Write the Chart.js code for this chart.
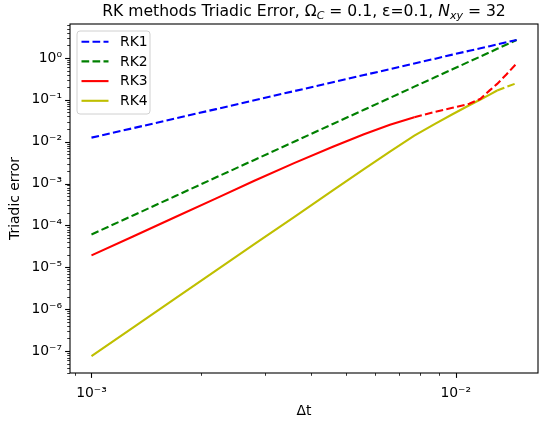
<!DOCTYPE html>
<html>
<head>
<meta charset="utf-8">
<script src="https://cdn.jsdelivr.net/npm/chart.js@4.4.1/dist/chart.umd.min.js"></script>
<style>
  html, body { margin: 0; padding: 0; background: #fff; }
</style>
</head>
<body>
<canvas id="c" width="539" height="426"></canvas>
<script>
// time steps (x) and errors
const dt = [0.001, 0.0013, 0.0017, 0.0022, 0.0028, 0.0036, 0.0046, 0.0056, 0.0066,
            0.0077, 0.0088, 0.0098, 0.0109, 0.0117, 0.0124, 0.0130, 0.0138, 0.0147];

const rk1 = [0.0125, 0.021, 0.036, 0.060, 0.098, 0.161, 0.263, 0.39, 0.54,
             0.74, 0.96, 1.20, 1.48, 1.70, 1.91, 2.10, 2.37, 2.69];
const rk2 = [6.1e-5, 1.73e-4, 5.04e-4, 1.41e-3, 3.67e-3, 9.98e-3, 0.0265, 0.0578, 0.111,
             0.206, 0.349, 0.536, 0.818, 1.08, 1.36, 1.65, 2.09, 2.69];
const rk3 = [1.93e-5, 5.47e-5, 1.59e-4, 4.44e-4, 1.17e-3, 3.08e-3, 7.60e-3, 0.0151, 0.0254,
             0.0383, 0.0518, 0.0645, 0.0803, 0.1056, 0.168, 0.240, 0.407, 0.740];
const rk4 = [7.60e-8, 3.65e-7, 1.81e-6, 8.44e-6, 3.57e-5, 1.59e-4, 6.89e-4, 2.20e-3, 5.78e-3,
             0.0139, 0.0271, 0.0452, 0.0740, 0.1016, 0.133, 0.1665, 0.204, 0.250];

// index from which the RK3 / RK4 curves are drawn dashed
const rk3DashFrom = 9;
const rk4DashFrom = 15;

const seriesLabels = ['RK1', 'RK2', 'RK3', 'RK4'];
const xTickLabels = ['10⁻³', '10⁻²'];
const yTickLabels = ['10⁻⁷', '10⁻⁶', '10⁻⁵', '10⁻⁴', '10⁻³', '10⁻²', '10⁻¹', '10⁰'];

const FONT = 'DejaVu Sans';
const DASH = [7.7, 3.3];
const LW = 2.1;

const pts = ys => dt.map((x, i) => ({ x: x, y: ys[i] }));
const isDecade = v => Math.abs(Math.log10(v) - Math.round(Math.log10(v))) < 1e-9;

function logTicks(scale) {
  const ticks = [];
  const e0 = Math.floor(Math.log10(scale.min)), e1 = Math.ceil(Math.log10(scale.max));
  for (let e = e0; e <= e1; e++) {
    for (let m = 1; m <= 9; m++) {
      const v = m * Math.pow(10, e);
      if (v >= scale.min && v <= scale.max) ticks.push({ value: v });
    }
  }
  scale.ticks = ticks;
}

function sup(n) {
  const map = { '-': '⁻', '0': '⁰', '1': '¹', '2': '²', '3': '³', '4': '⁴', '5': '⁵', '6': '⁶', '7': '⁷', '8': '⁸', '9': '⁹' };
  return String(n).split('').map(c => map[c]).join('');
}
function decadeLabel(labels) {
  return function (value) {
    if (!isDecade(value)) return '';
    const e = Math.round(Math.log10(value));
    return labels.find(s => s === '10' + sup(e)) || '';
  };
}

// frame, tick marks, title and legend in matplotlib style
const mplDecor = {
  id: 'mplDecor',
  afterDraw(chart) {
    const ctx = chart.ctx, a = chart.chartArea;
    const xs = chart.scales.x, ys = chart.scales.y;
    ctx.save();
    // tick marks
    ctx.strokeStyle = '#000';
    xs.ticks.forEach(t => {
      const p = Math.round(xs.getPixelForValue(t.value)) + 0.5;
      const major = isDecade(t.value);
      ctx.lineWidth = major ? 1.1 : 0.8;
      ctx.beginPath(); ctx.moveTo(p, a.bottom); ctx.lineTo(p, a.bottom + (major ? 4.9 : 2.8)); ctx.stroke();
    });
    ys.ticks.forEach(t => {
      const p = Math.round(ys.getPixelForValue(t.value)) + 0.5;
      const major = isDecade(t.value);
      ctx.lineWidth = major ? 1.1 : 0.8;
      ctx.beginPath(); ctx.moveTo(a.left, p); ctx.lineTo(a.left - (major ? 4.9 : 2.8), p); ctx.stroke();
    });
    // frame
    ctx.lineWidth = 1.1;
    ctx.strokeRect(a.left, a.top, a.right - a.left, a.bottom - a.top);

    // title with sub-scripts
    const big = 15.6, small = 11;
    const parts = [
      { t: 'RK methods Triadic Error, ', f: big + 'px ' + FONT, dy: 0 },
      { t: 'Ω', f: big + 'px ' + FONT, dy: 0 },
      { t: 'C', f: 'italic ' + small + 'px ' + FONT, dy: 3 },
      { t: ' = 0.1, ε=0.1, ', f: big + 'px ' + FONT, dy: 0 },
      { t: 'N', f: 'italic ' + big + 'px ' + FONT, dy: 0 },
      { t: 'xy', f: 'italic ' + small + 'px ' + FONT, dy: 3 },
      { t: ' = 32', f: big + 'px ' + FONT, dy: 0 }
    ];
    let w = 0;
    parts.forEach(p => { ctx.font = p.f; p.w = ctx.measureText(p.t).width; w += p.w; });
    let x = (a.left + a.right) / 2 - w / 2;
    ctx.fillStyle = '#000';
    ctx.textBaseline = 'alphabetic';
    ctx.textAlign = 'left';
    parts.forEach(p => { ctx.font = p.f; ctx.fillText(p.t, x, 16 + p.dy); x += p.w; });

    // legend
    const lx = 77, ly = 31, lw = 73, lh = 83, r = 3;
    ctx.beginPath();
    ctx.moveTo(lx + r, ly); ctx.lineTo(lx + lw - r, ly); ctx.quadraticCurveTo(lx + lw, ly, lx + lw, ly + r);
    ctx.lineTo(lx + lw, ly + lh - r); ctx.quadraticCurveTo(lx + lw, ly + lh, lx + lw - r, ly + lh);
    ctx.lineTo(lx + r, ly + lh); ctx.quadraticCurveTo(lx, ly + lh, lx, ly + lh - r);
    ctx.lineTo(lx, ly + r); ctx.quadraticCurveTo(lx, ly, lx + r, ly);
    ctx.closePath();
    ctx.fillStyle = 'rgba(255,255,255,0.8)';
    ctx.fill();
    ctx.strokeStyle = '#d0d0d0';
    ctx.lineWidth = 1;
    ctx.stroke();
    chart.data.datasets.forEach((ds, i) => {
      const yy = 41.7 + i * 19.7;
      ctx.strokeStyle = ds.borderColor;
      ctx.lineWidth = LW;
      ctx.setLineDash(ds.borderDash || []);
      ctx.beginPath(); ctx.moveTo(81.5, yy); ctx.lineTo(108.5, yy); ctx.stroke();
      ctx.setLineDash([]);
      ctx.fillStyle = '#000';
      ctx.font = '13.9px ' + FONT;
      ctx.textBaseline = 'middle';
      ctx.fillText(ds.label, 120, yy + 0.5);
    });
    ctx.restore();
  }
};

new Chart(document.getElementById('c').getContext('2d'), {
  type: 'line',
  data: {
    datasets: [
      { label: seriesLabels[0], data: pts(rk1), borderColor: '#0000ff', borderDash: DASH },
      { label: seriesLabels[1], data: pts(rk2), borderColor: '#008000', borderDash: DASH },
      { label: seriesLabels[2], data: pts(rk3), borderColor: '#ff0000',
        segment: { borderDash: c => c.p0DataIndex >= rk3DashFrom ? DASH : undefined } },
      { label: seriesLabels[3], data: pts(rk4), borderColor: '#bfbf00',
        segment: { borderDash: c => c.p0DataIndex >= rk4DashFrom ? DASH : undefined } }
    ]
  },
  options: {
    responsive: false,
    animation: false,
    devicePixelRatio: 1,
    layout: { padding: { top: 24, right: 1, left: 0, bottom: 0 } },
    elements: {
      point: { radius: 0 },
      line: { borderWidth: LW, tension: 0, borderCapStyle: 'butt' }
    },
    plugins: { legend: { display: false }, title: { display: false }, tooltip: { enabled: false } },
    scales: {
      x: {
        type: 'logarithmic',
        min: 8.73e-4, max: 0.01683,
        afterBuildTicks: logTicks,
        afterFit: s => { s.height = 53; },
        grid: { display: false, drawTicks: false },
        border: { display: false },
        ticks: {
          autoSkip: false, maxRotation: 0, padding: 12, color: '#000',
          font: { family: FONT, size: 13.9 },
          callback: decadeLabel(xTickLabels)
        },
        title: { display: true, text: 'Δt', color: '#000', font: { family: FONT, size: 13.9 }, padding: { top: 0, bottom: 6 } }
      },
      y: {
        type: 'logarithmic',
        min: 3.34e-8, max: 6.46,
        afterBuildTicks: logTicks,
        afterFit: s => { s.width = 70; },
        grid: { display: false, drawTicks: false },
        border: { display: false },
        ticks: {
          autoSkip: false, padding: 8, color: '#000',
          font: { family: FONT, size: 13.9 },
          callback: decadeLabel(yTickLabels)
        },
        title: { display: true, text: 'Triadic error', color: '#000', font: { family: FONT, size: 13.9 }, padding: { top: 7, bottom: 0 } }
      }
    }
  },
  plugins: [mplDecor]
});
</script>
</body>
</html>
